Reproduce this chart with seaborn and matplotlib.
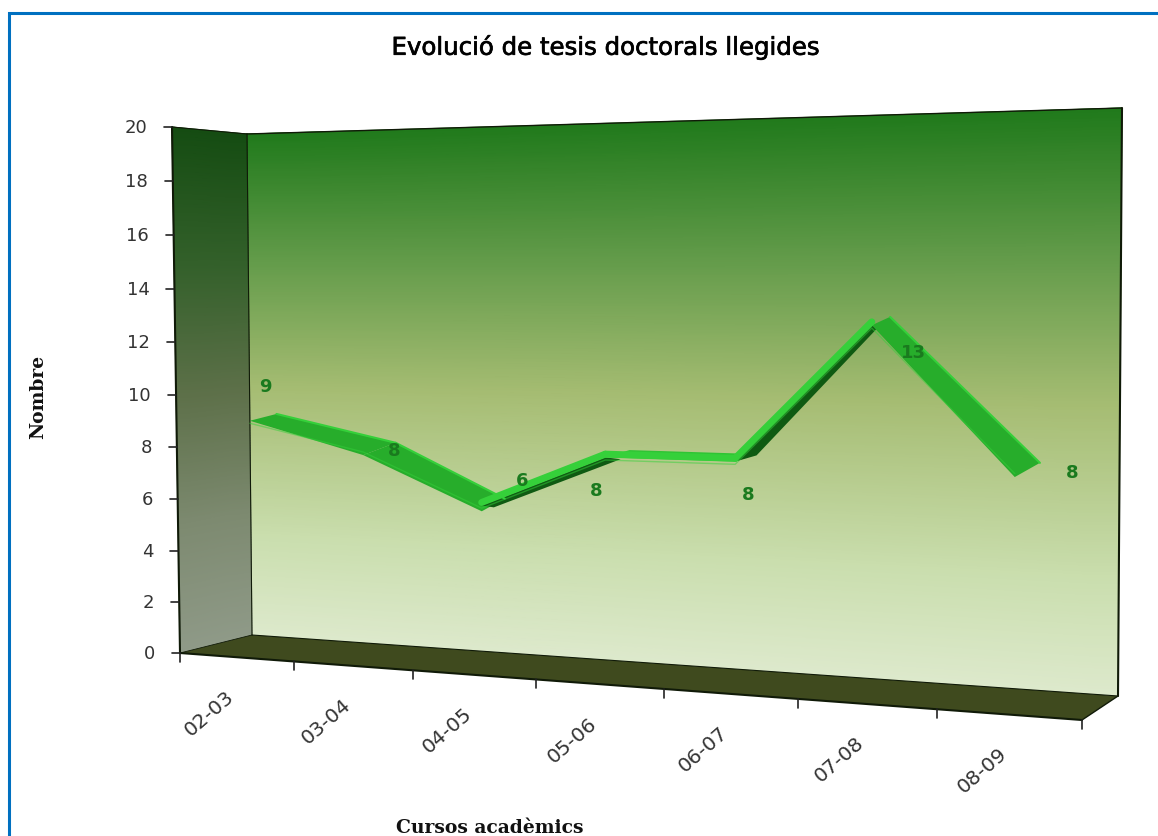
import numpy as np
import matplotlib
matplotlib.use("Agg")
import matplotlib.pyplot as plt
import matplotlib.patheffects as pe
from matplotlib.transforms import Transform
from matplotlib.colors import LinearSegmentedColormap
import seaborn as sns

# ---- data ----
categories = ["02-03", "03-04", "04-05", "05-06", "06-07", "07-08", "08-09"]
tesis = [9, 8, 6, 8, 8, 13, 8]
y_ticks = list(range(0, 21, 2))
title = "Evolució de tesis doctorals llegides"
ylabel = "Nombre"
xlabel = "Cursos acadèmics"

# ---- layout (pixels) ----
W, H = 1158, 837
BACK = [(247, 135), (1122, 109), (1118, 697), (252, 636)]   # TL TR BR BL
SIDE = [(172, 128), (247, 135), (252, 636), (180, 654)]
FLOOR = [(252, 636), (1118, 697), (1082, 721), (180, 654)]
LABEL_OFF = [(16, -25), (31, 11), (40, -15), (-9, 43), (13, 43), (42, 38), (57, 13)]
# ribbon depth, per vertex, in data units (style only)
DEPTH = [0.24, 0.28, 0.19, 0.19, 0.16, 0.13, 0.17]
FRONT, REAR = -0.4, -0.1
FALL_FRONT = -0.62
RISE_START = {2: (0.10, -0.45), 4: (0.16, -0.15)}
RISE_END = {3: (0.12, -0.45), 5: (0.04, -0.50)}


class Persp(Transform):
    """Unit-square to quad homography: (0,1)->TL (1,1)->TR (1,0)->BR (0,0)->BL."""
    input_dims = output_dims = 2

    def __init__(self, quad, xmax=1.0, ymax=1.0):
        super().__init__()
        self.xmax, self.ymax = xmax, ymax
        src = [(0, 1), (1, 1), (1, 0), (0, 0)]
        A, b = [], []
        for (u, v), (x, y) in zip(src, quad):
            A.append([u, v, 1, 0, 0, 0, -u * x, -v * x]); b.append(x)
            A.append([0, 0, 0, u, v, 1, -u * y, -v * y]); b.append(y)
        h = np.linalg.solve(np.array(A, float), np.array(b, float))
        self.M = np.append(h, 1).reshape(3, 3)

    def transform_non_affine(self, pts):
        pts = np.asarray(pts, float)
        p = np.c_[pts[:, 0] / self.xmax, pts[:, 1] / self.ymax, np.ones(len(pts))] @ self.M.T
        return p[:, :2] / p[:, 2:]


sns.set_theme(style="white")
plt.rcParams["font.family"] = ["DejaVu Sans"]
fig = plt.figure(figsize=(W / 100, H / 100), dpi=100, facecolor="white")
ax = fig.add_axes([0, 0, 1, 1])
ax.set_axis_off()

back_t = Persp(BACK, 6.7, 20)
floor_t = Persp(FLOOR, 7, 1)
T_back = back_t + ax.transData


def grad(quad, stops, zorder=1):
    cmap = LinearSegmentedColormap.from_list("g", stops)
    xs = np.array([0.0, 1.0])
    ys = np.linspace(0, 1, 200)
    X, Y = np.meshgrid(xs, ys)
    ax.pcolormesh(X, Y, np.c_[ys, ys], cmap=cmap, vmin=0, vmax=1, shading="gouraud",
                  transform=Persp(quad) + ax.transData, zorder=zorder, rasterized=True)


# walls
grad(BACK, [(0, "#dde9cc"), (0.2, "#cadeae"), (0.5, "#a5bc72"), (0.75, "#639b4a"), (1, "#217a1c")])
grad(SIDE, [(0, "#8f9a88"), (0.25, "#7d8a70"), (0.5, "#5d7049"), (0.75, "#33602a"), (1, "#154c12")])
ax.fill(*zip(*FLOOR), color="#3f4a1e", zorder=2, lw=0)

# outlines
EDGE = "#101a08"
for a, b, lw in [(SIDE[0], SIDE[3], 1.5), (SIDE[3], FLOOR[2], 1.5), (FLOOR[2], FLOOR[1], 1.0),
                 (BACK[1], BACK[2], 1.5), (BACK[0], BACK[1], 1.0), (SIDE[0], SIDE[1], 0.8),
                 (BACK[0], BACK[3], 0.8), (BACK[3], SIDE[3], 0.6), (BACK[3], BACK[2], 0.8)]:
    ax.plot([a[0], b[0]], [a[1], b[1]], color=EDGE, lw=lw, zorder=3)

# frame
ax.plot([9, 9, W], [H, 14, 14], color="#0070c0", lw=2.2, zorder=5, solid_joinstyle="miter")

# y axis
side_axis = Persp(SIDE, 1, 20)
for v in y_ticks:
    px, py = side_axis.transform_non_affine(np.array([[0.0, v]]))[0]
    ax.plot([px - 8, px], [py, py], color="#222222", lw=1.2, zorder=3)
    ax.text(px - 25, py, str(v), ha="right", va="center", fontsize=13, color="#333333")

# x axis
for i in range(len(categories) + 1):
    px, py = floor_t.transform_non_affine(np.array([[float(i), 0.0]]))[0]
    ax.plot([px, px], [py, py + 9], color="#222222", lw=1.2, zorder=3)
for i, c in enumerate(categories):
    px, py = floor_t.transform_non_affine(np.array([[i + 0.5, 0.0]]))[0]
    ax.text(px - 27, py + 55, c, rotation=41, ha="center", va="center", fontsize=14.5,
            color="#333333", rotation_mode="anchor")

# ribbon
x = np.arange(len(tesis), dtype=float)
v = np.array(tesis, float)
depth = np.array(DEPTH)
RIM = "#35d03a"
for i in range(len(x) - 1):
    rising = v[i + 1] > v[i]
    flat = v[i + 1] == v[i]
    falling = v[i + 1] < v[i]
    col = "#0f5a12" if rising else ("#2fc434" if flat else "#27ad2b")
    ds, os_ = RISE_START.get(i, (depth[i], REAR)) if rising else (depth[i], REAR)
    de, oe = RISE_END.get(i + 1, (depth[i + 1], REAR)) if rising else (depth[i + 1], REAR)
    f0 = FALL_FRONT if (falling and i > 0 and v[i] < v[i - 1]) else FRONT
    f1 = FALL_FRONT if falling else FRONT
    ax.fill([x[i], x[i] + ds, x[i + 1] + de, x[i + 1]],
            [v[i] + f0, v[i] + os_, v[i + 1] + oe, v[i + 1] + f1],
            color=col, lw=0, transform=T_back, zorder=6)
    if rising or flat:
        ax.plot(x[i:i + 2], v[i:i + 2] + FRONT + 0.12, color=RIM, lw=5,
                transform=T_back, zorder=7, solid_capstyle="round")
    if falling:
        ax.plot([x[i] + depth[i], x[i + 1] + depth[i + 1]], [v[i] + REAR, v[i + 1] + REAR],
                color=RIM, lw=1.5, transform=T_back, zorder=7)
# faint rim along the series itself
sns.lineplot(x=x, y=v + FRONT - 0.1, ax=ax, color=RIM, lw=1.0, alpha=0.5, transform=T_back, zorder=7,
             errorbar=None, sort=False)

# data labels
for xi, vi, s, (dx, dy) in zip(x, v, tesis, LABEL_OFF):
    px, py = back_t.transform_non_affine(np.array([[xi, vi]]))[0]
    ax.text(px + dx, py + dy, str(s), ha="center", va="center", fontsize=13, fontweight="bold",
            color="#1a7a1e", zorder=8)

# titles
ax.text(606, 48, title, ha="center", va="center", fontsize=17.6, family="DejaVu Sans", color="#000000",
        path_effects=[pe.withStroke(linewidth=0.5, foreground="#000000")])
ax.text(38, 397, ylabel, ha="center", va="center", rotation=90, fontsize=13.5, family="DejaVu Serif",
        fontweight="bold", color="#111111")
ax.text(490, 828, xlabel, ha="center", va="center", fontsize=13.5, family="DejaVu Serif",
        fontweight="bold", color="#111111")

ax.set_xlabel("")
ax.set_ylabel("")
ax.set_xlim(0, W)
ax.set_ylim(H, 0)
fig.savefig("out.png", dpi=100, facecolor="white")
